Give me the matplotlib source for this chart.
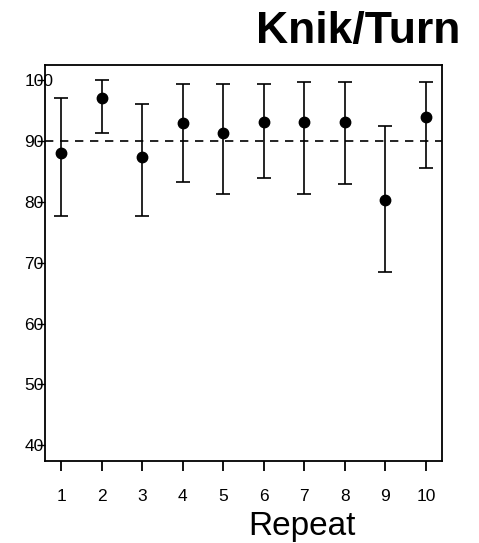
import matplotlib
matplotlib.use("Agg")
import matplotlib.pyplot as plt
import numpy as np

# values
repeats = [1, 2, 3, 4, 5, 6, 7, 8, 9, 10]
means = [88.1, 97.1, 87.3, 92.9, 91.4, 93.2, 93.2, 93.2, 80.3, 94.0]
lower = [77.7, 91.4, 77.7, 83.2, 81.3, 84.0, 81.3, 82.9, 68.5, 85.5]
upper = [97.1, 100.0, 96.1, 99.4, 99.4, 99.4, 99.7, 99.7, 92.4, 99.7]
reference_level = 90
y_ticks = [40, 50, 60, 70, 80, 90, 100]
title = "Knik/Turn"
x_label = "Repeat"

plt.rcParams["font.family"] = ["Liberation Sans", "DejaVu Sans"]

fig = plt.figure(figsize=(4.79, 5.43), dpi=100)
ax = fig.add_axes([0.0939, 0.151, 0.8289, 0.7293])

m = np.array(means)
yerr = np.vstack([m - np.array(lower), np.array(upper) - m])
ax.errorbar(repeats, means, yerr=yerr, fmt="o", color="black",
            markersize=7.5, elinewidth=1.2, capsize=5, capthick=1.2)
ax.axhline(reference_level, color="black", linewidth=1.2, linestyle=(0, (5, 4)))

ax.set_xlim(0.6, 10.4)
ax.set_ylim(37.4, 102.5)
ax.set_xticks(repeats)
ax.set_yticks(y_ticks)

for side in ["left", "right", "top", "bottom"]:
    ax.spines[side].set_linewidth(1.3)

ax.tick_params(axis="x", direction="out", length=7.5, width=1.3, pad=13, labelsize=12.5)
ax.tick_params(axis="y", direction="out", length=6, width=1.0, pad=9, labelsize=12.5)
for lab in ax.get_yticklabels():
    lab.set_horizontalalignment("left")

ax.set_xlabel(x_label, fontsize=24, labelpad=-4)
ax.xaxis.set_label_coords(0.647, -0.125)

fig.text(0.962, 0.942, title, ha="right", va="center",
         fontsize=32, fontweight="bold")

fig.savefig("out.png", dpi=100)
